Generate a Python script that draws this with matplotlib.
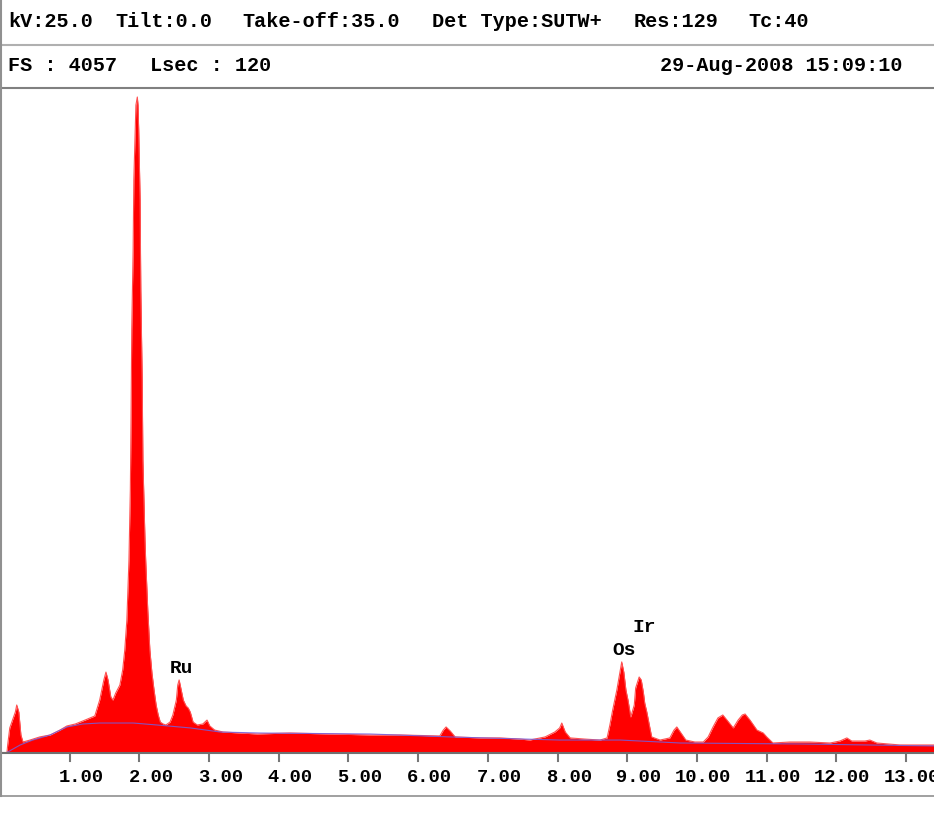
import matplotlib
matplotlib.use("Agg")
import matplotlib.pyplot as plt
from matplotlib.lines import Line2D
from matplotlib.transforms import ScaledTranslation

# ---- data ----
energy_keV = [0.00, 0.10, 0.11, 0.14, 0.19, 0.22, 0.24, 0.27, 0.30, 0.33, 0.43, 0.57, 0.72, 0.86, 0.96,
              1.08, 1.22, 1.36, 1.43, 1.49, 1.52, 1.55, 1.59, 1.62, 1.66, 1.72, 1.76, 1.79, 1.82, 1.85,
              1.87, 1.88, 1.89, 1.91, 1.92, 1.94, 1.95, 1.97, 1.98, 1.99, 2.01, 2.02, 2.04, 2.05, 2.08,
              2.09, 2.12, 2.15, 2.18, 2.21, 2.24, 2.27, 2.30, 2.34, 2.38, 2.44, 2.48, 2.53, 2.55, 2.57,
              2.60, 2.63, 2.67, 2.70, 2.73, 2.77, 2.83, 2.91, 2.97, 3.01, 3.08, 3.20, 3.69, 4.16, 4.73,
              5.31, 5.74, 6.31, 6.36, 6.40, 6.46, 6.53, 6.89, 7.17, 7.46, 7.60, 7.82, 7.96, 8.03, 8.06,
              8.11, 8.18, 8.39, 8.61, 8.71, 8.75, 8.79, 8.85, 8.90, 8.92, 8.95, 8.98, 9.01, 9.05, 9.10,
              9.12, 9.17, 9.20, 9.23, 9.25, 9.28, 9.33, 9.35, 9.47, 9.61, 9.67, 9.71, 9.77, 9.84, 9.97,
              10.09, 10.16, 10.23, 10.30, 10.37, 10.43, 10.52, 10.59, 10.65, 10.69, 10.76, 10.86, 10.95,
              11.00, 11.09, 11.33, 11.62, 11.91, 12.05, 12.15, 12.22, 12.41, 12.48, 12.58, 12.91, 13.40]
counts = [0, 0, 46, 150, 211, 247, 290, 247, 107, 64, 76, 95, 107, 137, 162,
          174, 198, 223, 320, 443, 491, 443, 339, 320, 363, 412, 504, 626, 809, 1175,
          1603, 2030, 2579, 3068, 3495, 3800, 3953, 4002, 3953, 3800, 3373, 2824, 2274, 1786, 1297,
          1175, 870, 626, 485, 382, 290, 229, 186, 174, 168, 186, 229, 320, 412, 443,
          382, 320, 284, 272, 247, 186, 168, 174, 198, 162, 137, 125, 113, 119, 113,
          107, 107, 101, 137, 156, 131, 95, 89, 89, 82, 76, 95, 125, 150, 180,
          125, 89, 82, 76, 89, 168, 259, 382, 504, 553, 491, 382, 320, 217, 290,
          394, 461, 443, 369, 302, 247, 137, 95, 76, 89, 137, 156, 119, 76, 64,
          64, 95, 156, 211, 229, 198, 150, 198, 229, 235, 198, 137, 119,
          95, 58, 64, 64, 58, 70, 89, 70, 70, 76, 58, 46, 46]

bkg_keV = [0.11, 0.29, 0.47, 0.72, 0.96, 1.19, 1.43, 1.91, 2.25, 2.73, 3.16, 3.73, 5.31, 6.46, 8.03,
           8.90, 9.76, 11.48, 13.40]
bkg_counts = [3, 46, 76, 107, 156, 174, 180, 180, 168, 150, 125, 119, 113, 95, 76,
              76, 58, 52, 40]

tick_values = [1, 2, 3, 4, 5, 6, 7, 8, 9, 10, 11, 12, 13]
tick_labels = ["1.00", "2.00", "3.00", "4.00", "5.00", "6.00", "7.00", "8.00", "9.00",
               "10.00", "11.00", "12.00", "13.00"]

peak_labels = ["Ru", "Os", "Ir"]
peak_label_keV = [2.44, 8.79, 9.07]
peak_label_counts = [485, 595, 735]

header1 = ["kV:25.0", "Tilt:0.0", "Take-off:35.0", "Det Type:SUTW+", "Res:129", "Tc:40"]
header1_x = [8, 115, 242, 432, 634, 748]
full_scale = 4057
header2_left = ["FS : %d" % full_scale, "Lsec : 120"]
header2_left_x = [8, 150]
header2_right = "29-Aug-2008 15:09:10"

# ---- figure ----
W, H = 934, 824
fig = plt.figure(figsize=(W / 100, H / 100), dpi=100)
fig.patch.set_facecolor("white")

base_y = 752.5
top_y = 88.0
ax = fig.add_axes([0, (H - base_y) / H, 1, (base_y - top_y) / H])
ax.set_xlim(0, W / 69.7)
ax.set_ylim(0, full_scale)
ax.axis("off")

ax.fill_between(energy_keV, counts, 0, color="#ff0000", lw=0, zorder=2)
ax.plot(energy_keV, counts, color="#ff5050", lw=0.8, zorder=2)
ax.plot(bkg_keV, bkg_counts, color="#7060e0", lw=0.8, alpha=0.85, zorder=3)

mono = ["Liberation Mono", "DejaVu Sans Mono"]

for lab, ex, cy in zip(peak_labels, peak_label_keV, peak_label_counts):
    ax.text(ex, cy, lab, fontsize=14, family=mono, weight="bold", color="black",
            ha="left", va="baseline", zorder=4)

# tick marks and labels (labels right-aligned a bit right of the tick)
tx = ax.get_xaxis_transform()
for v, lab in zip(tick_values, tick_labels):
    ax.add_line(Line2D([v, v], [0, -8 / (base_y - top_y)], transform=tx, color="#777777",
                       lw=1.5, clip_on=False))
    ax.text(v, -30 / (base_y - top_y), lab, transform=tx + ScaledTranslation(0.34, 0, fig.dpi_scale_trans),
            ha="right", va="baseline", fontsize=13.5, family=mono, weight="bold", color="black",
            clip_on=False)


def hline(y, color, lw):
    fig.add_artist(Line2D([0, 1], [1 - y / H, 1 - y / H], transform=fig.transFigure, color=color, lw=lw))


hline(45, "#b0b0b0", 1.5)
hline(88, "#808080", 1.5)
hline(753, "#707070", 1.5)
hline(796, "#909090", 1.2)
fig.add_artist(Line2D([1 / W, 1 / W], [1, 1 - 796 / H], transform=fig.transFigure, color="#909090", lw=1.5))

for t, x in zip(header1, header1_x):
    fig.text(x / W, 1 - 27 / H, t, fontsize=14.5, family=mono, weight="bold", ha="left", va="baseline")
for t, x in zip(header2_left, header2_left_x):
    fig.text(x / W, 1 - 71 / H, t, fontsize=14.5, family=mono, weight="bold", ha="left", va="baseline")
fig.text(903 / W, 1 - 71 / H, header2_right, fontsize=14.5, family=mono, weight="bold",
         ha="right", va="baseline")

fig.savefig("out.png", dpi=100, facecolor="white")
